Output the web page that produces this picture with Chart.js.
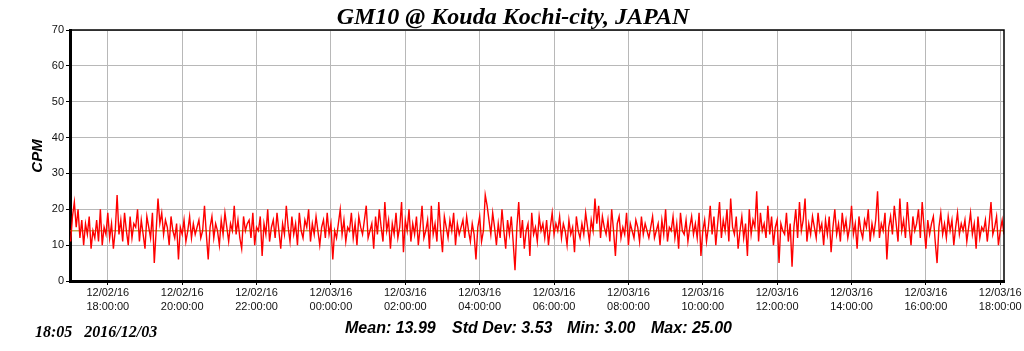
<!DOCTYPE html>
<html>
<head>
<meta charset="utf-8">
<script src="https://cdn.jsdelivr.net/npm/chart.js@4.4.1/dist/chart.umd.min.js"></script>
<style>
  body { margin: 0; background: #fff; }
  canvas { display: block; }
</style>
</head>
<body>
<canvas id="gm10-chart" width="1024" height="351"></canvas>
<script>
// minutes counted from 12/02/16 00:00, one reading every 3 minutes
const START_MINUTE = 1020;
const STEP_MINUTES = 3;

const cpmValues = [
  11, 18, 22, 15, 20, 12, 17, 10, 16, 13, 18, 9, 14, 12, 17, 11, 20, 10, 15, 13, 19, 12, 16, 9,
  14, 24, 13, 17, 11, 19, 14, 10, 18, 12, 16, 15, 20, 11, 17, 13, 9, 18, 15, 12, 19, 5, 14, 23,
  16, 19, 13, 17, 15, 10, 18, 14, 12, 16, 6, 15, 13, 17, 11, 14, 18, 12, 16, 13, 15, 17, 12, 14,
  21, 13, 6, 15, 18, 12, 16, 14, 10, 17, 13, 19, 15, 11, 16, 14, 21, 13, 17, 12, 9, 18, 14, 16,
  17, 12, 19, 10, 15, 14, 18, 7, 16, 13, 20, 11, 15, 17, 12, 19, 14, 9, 16, 13, 21, 15, 11, 18,
  13, 16, 10, 19, 14, 12, 17, 15, 20, 11, 16, 13, 18, 14, 10, 15, 17, 12, 19, 13, 16, 6, 14, 12,
  16, 20, 13, 17, 11, 15, 14, 19, 12, 16, 10, 18, 15, 13, 17, 21, 12, 14, 16, 9, 18, 13, 20, 15,
  11, 22, 14, 17, 9, 16, 13, 19, 12, 15, 22, 8, 17, 14, 20, 11, 16, 13, 18, 10, 15, 21, 12, 14,
  17, 9, 21, 13, 16, 11, 22, 14, 8, 18, 15, 12, 17, 14, 19, 10, 16, 13, 15, 17, 12, 18, 14, 11,
  16, 13, 6, 15, 18, 11, 14, 24, 21, 17, 13, 19, 15, 10, 16, 12, 20, 14, 9, 17, 13, 18, 11, 3,
  15, 22, 12, 17, 9, 14, 16, 7, 19, 13, 15, 11, 18, 14, 16, 12, 17, 10, 15, 19, 13, 16, 14, 18,
  12, 16, 14, 10, 17, 13, 15, 8, 18, 14, 12, 16, 13, 19, 15, 11, 17, 14, 23, 16, 21, 12, 18, 15,
  13, 17, 11, 20, 14, 7, 16, 18, 12, 15, 13, 19, 10, 16, 14, 12, 17, 15, 11, 18, 13, 16, 14, 12,
  15, 18, 12, 14, 16, 10, 17, 13, 20, 11, 15, 14, 18, 12, 16, 9, 19, 14, 13, 17, 11, 15, 18, 13,
  16, 12, 19, 7, 14, 17, 11, 15, 21, 13, 18, 10, 16, 22, 12, 17, 14, 20, 11, 23, 15, 13, 18, 9,
  14, 18, 12, 16, 7, 20, 13, 17, 15, 25, 11, 19, 14, 16, 12, 21, 13, 18, 10, 15, 17, 5, 16, 14,
  13, 19, 11, 16, 4, 15, 20, 12, 22, 14, 17, 23, 11, 16, 13, 18, 15, 12, 19, 14, 16, 10, 17, 13,
  18, 8, 15, 20, 13, 16, 11, 19, 14, 17, 12, 15, 21, 13, 16, 9, 18, 14, 12, 17, 15, 20, 11, 16,
  13, 17, 25, 12, 16, 14, 19, 6, 15, 18, 13, 21, 16, 11, 23, 14, 17, 12, 22, 15, 10, 18, 14, 16,
  20, 12, 22, 15, 9, 17, 13, 16, 18, 11, 5, 15, 19, 13, 16, 12, 18, 14, 17, 10, 15, 19, 13, 16,
  14, 17, 11, 15, 19, 13, 16, 9, 18, 12, 15, 14, 17, 11, 16, 22, 13, 15, 18, 10, 14, 17, 13, 16,
];

const xTickMinutes = [1080, 1200, 1320, 1440, 1560, 1680, 1800, 1920, 2040, 2160, 2280, 2400, 2520];
const yTickValues = [0, 10, 20, 30, 40, 50, 60, 70];

const MEAN_CPM = 13.99;
const statLabels = ['Mean: 13.99', 'Std Dev: 3.53', 'Min: 3.00', 'Max: 25.00'];
const statPositions = [345, 452, 567, 651];

const TITLE = 'GM10 @ Kouda Kochi-city, JAPAN';
const STAMP = '18:05   2016/12/03';

function tickLabel(minute) {
  const day = minute >= 1440 ? '12/03/16' : '12/02/16';
  const hour = Math.floor((minute % 1440) / 60);
  return [day, String(hour).padStart(2, '0') + ':00:00'];
}

const textPlugin = {
  id: 'gm10Text',
  afterDraw(chart) {
    const { ctx, chartArea } = chart;
    ctx.save();
    // thin top and right frame
    ctx.strokeStyle = '#000';
    ctx.lineWidth = 1.5;
    ctx.beginPath();
    ctx.moveTo(chartArea.left, chartArea.top);
    ctx.lineTo(chartArea.right, chartArea.top);
    ctx.lineTo(chartArea.right, chartArea.bottom);
    ctx.stroke();

    ctx.fillStyle = '#000';
    ctx.textBaseline = 'alphabetic';
    ctx.textAlign = 'center';
    ctx.font = 'italic bold 24px "Liberation Serif"';
    ctx.fillText(TITLE, 513, 24);

    ctx.textAlign = 'left';
    ctx.font = 'italic bold 16px "Liberation Serif"';
    ctx.fillText(STAMP, 35, 337);

    ctx.font = 'italic bold 16px "Liberation Sans"';
    statLabels.forEach((label, i) => ctx.fillText(label, statPositions[i], 333));

    ctx.translate(42, 156);
    ctx.rotate(-Math.PI / 2);
    ctx.textAlign = 'center';
    ctx.font = 'italic bold 15px "Liberation Sans"';
    ctx.fillText('CPM', 0, 0);
    ctx.restore();
  },
};

function createChart() {
  const ctx = document.getElementById('gm10-chart').getContext('2d');
  const points = cpmValues.map((v, i) => ({ x: START_MINUTE + i * STEP_MINUTES, y: v }));

  new Chart(ctx, {
    type: 'line',
    data: {
      datasets: [
        {
          label: 'CPM',
          data: points,
          borderColor: 'rgb(255, 0, 0)',
          borderWidth: 1.4,
          pointRadius: 0,
          tension: 0,
          order: 1,
        },
        {
          label: 'Mean',
          data: [{ x: 1019, y: MEAN_CPM }, { x: 2526, y: MEAN_CPM }],
          borderColor: 'rgb(170, 130, 0)',
          borderWidth: 1,
          pointRadius: 0,
          order: 2,
        },
      ],
    },
    options: {
      responsive: false,
      animation: false,
      devicePixelRatio: 1,
      layout: { padding: { left: 0, right: 20, top: 30, bottom: 0 } },
      plugins: {
        legend: { display: false },
        tooltip: { enabled: false },
      },
      scales: {
        x: {
          type: 'linear',
          min: 1019,
          max: 2526,
          afterBuildTicks: (scale) => {
            scale.ticks = xTickMinutes.map((v) => ({ value: v }));
          },
          afterFit: (scale) => {
            scale.height = 70;
          },
          grid: { color: '#b8b8b8', lineWidth: 1, tickLength: 4, tickColor: '#000' },
          border: { color: '#000', width: 3 },
          ticks: {
            autoSkip: false,
            maxRotation: 0,
            padding: 1,
            color: '#111',
            font: { family: 'Liberation Sans', size: 11, lineHeight: 1.25 },
            callback: (value) => tickLabel(value),
          },
        },
        y: {
          min: 0,
          max: 70,
          afterBuildTicks: (scale) => {
            scale.ticks = yTickValues.map((v) => ({ value: v }));
          },
          afterFit: (scale) => {
            scale.width = 70;
          },
          grid: { color: '#b8b8b8', lineWidth: 1, tickLength: 4, tickColor: '#000' },
          border: { color: '#000', width: 3 },
          ticks: {
            padding: 2,
            color: '#111',
            font: { family: 'Liberation Sans', size: 11 },
          },
        },
      },
    },
    plugins: [textPlugin],
  });
}

createChart();
</script>
</body>
</html>
